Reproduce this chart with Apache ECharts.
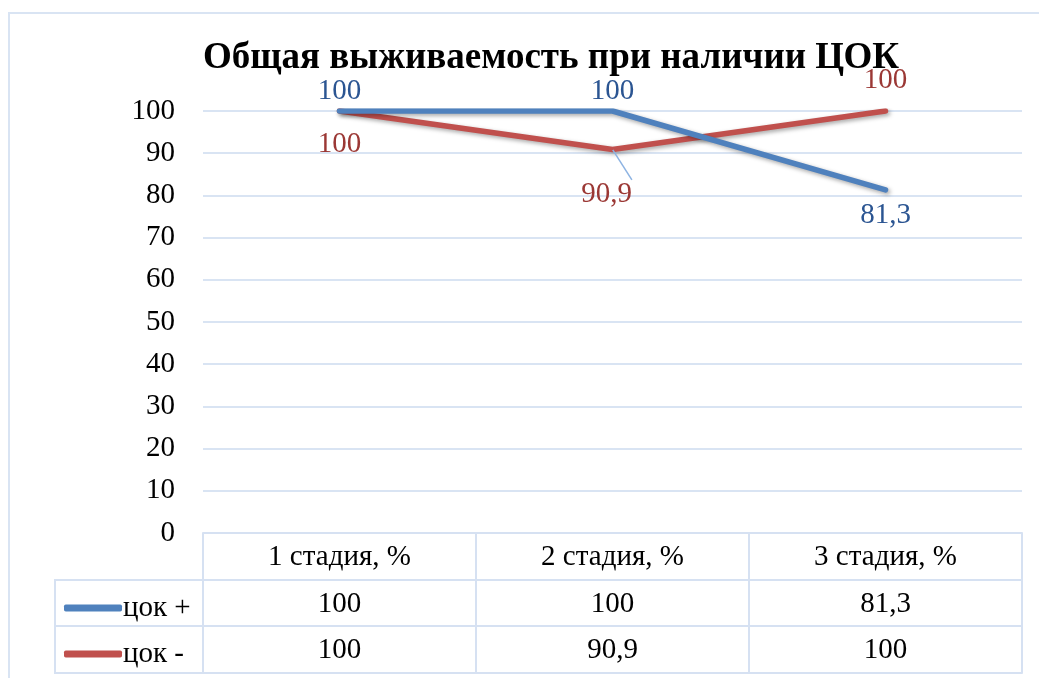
<!DOCTYPE html>
<html>
<head>
<meta charset="utf-8">
<script src="https://cdn.jsdelivr.net/npm/echarts@6/dist/echarts.min.js"></script>
<style>
  html, body { margin: 0; padding: 0; background: #fff; }
  #chart { width: 1039px; height: 678px; }
</style>
</head>
<body>
<div id="chart"></div>
<script>
// данные
const stages = ['1 стадия, %', '2 стадия, %', '3 стадия, %'];
const seriesNames = ['цок +', 'цок -'];
const cokPlus = [100, 100, 81.3];
const cokMinus = [100, 90.9, 100];

// где ставить подписи точек
const plusLabelPos = ['top', 'top', 'bottom'];
const minusLabelPos = ['bottom', 'bottom', 'top'];

const FONT = 'Liberation Serif';
const GRID_L = 203, GRID_R = 17, GRID_T = 111, GRID_B = 145;
const ROW = [47, 93, 140]; // нижние границы строк таблицы от оси
const TABLE_C = '#D6E1F2';
const BLUE = '#4F81BD', RED = '#C0504D';
const BLUE_TXT = '#2B5592', RED_TXT = '#9B3835';

const fmt = v => String(v).replace('.', ',');

const mkData = (vals, pos, dist, guide) => vals.map((v, i) => {
  const item = { value: v, label: { position: pos[i], distance: dist[i] } };
  if (guide && guide[i]) {
    item.label.offset = [-6, 0];
    item.labelLine = { show: true, length2: 0, lineStyle: { color: '#8DB3E2', width: 1.5 } };
  }
  return item;
});

const chart = echarts.init(document.getElementById('chart'));
const bottomY = 678 - GRID_B;

const tableAxis = (offset, vals) => ({
  type: 'category',
  data: stages,
  gridIndex: 0,
  position: 'bottom',
  offset: offset,
  axisLine: { show: true, lineStyle: { color: TABLE_C, width: 2 } },
  axisTick: { show: false },
  axisLabel: {
    show: !!vals,
    margin: 10,
    fontSize: 29,
    fontFamily: FONT,
    color: '#000',
    formatter: (v, i) => vals ? fmt(vals[i]) : ''
  },
  splitLine: { show: false }
});

var option = {
  animation: false,
  title: {
    text: 'Общая выживаемость при наличии ЦОК',
    left: 198,
    top: 35,
    textStyle: { fontFamily: FONT, fontSize: 37, fontWeight: 'bold', color: '#000' }
  },
  grid: {
    left: GRID_L, right: GRID_R, top: GRID_T, bottom: GRID_B,
    containLabel: false, outerBoundsMode: 'none'
  },
  legend: {
    orient: 'vertical',
    left: 59,
    top: 588,
    itemWidth: 58,
    itemHeight: 7,
    itemGap: 16,
    icon: 'roundRect',
    data: seriesNames,
    textStyle: { fontFamily: FONT, fontSize: 29, lineHeight: 30, color: '#000', padding: [0, 0, 0, -4] }
  },
  xAxis: [
    {
      type: 'category',
      data: stages,
      position: 'bottom',
      axisLine: { show: true, lineStyle: { color: TABLE_C, width: 2 } },
      axisTick: { show: true, inside: false, length: ROW[2], lineStyle: { color: TABLE_C, width: 2 } },
      axisLabel: { margin: 10, fontSize: 29, fontFamily: FONT, color: '#000' },
      splitLine: { show: false }
    },
    tableAxis(ROW[0], cokPlus),
    tableAxis(ROW[1], cokMinus),
    tableAxis(ROW[2], null)
  ],
  yAxis: {
    type: 'value',
    min: 0,
    max: 100,
    interval: 10,
    axisLine: { show: false },
    axisTick: { show: false },
    axisLabel: { margin: 28, fontSize: 29, fontFamily: FONT, color: '#000' },
    splitLine: { lineStyle: { color: '#D9E4F3', width: 2 } }
  },
  graphic: [
    {
      type: 'rect', z: -1, silent: true,
      shape: { x: 9, y: 13, width: 1100, height: 700 },
      style: { fill: 'none', stroke: '#D9E4F3', lineWidth: 2 }
    },
    {
      type: 'polyline', silent: true,
      shape: { points: [[GRID_L, bottomY + ROW[0]], [55, bottomY + ROW[0]], [55, bottomY + ROW[2]], [GRID_L, bottomY + ROW[2]]] },
      style: { fill: 'none', stroke: TABLE_C, lineWidth: 2 }
    },
    {
      type: 'line', silent: true,
      shape: { x1: 55, y1: bottomY + ROW[1], x2: GRID_L, y2: bottomY + ROW[1] },
      style: { stroke: TABLE_C, lineWidth: 2 }
    }
  ],
  series: [
    {
      name: seriesNames[0],
      type: 'line',
      data: mkData(cokPlus, plusLabelPos, [5, 5, 10]),
      color: BLUE,
      symbol: 'circle',
      symbolSize: 1,
      lineStyle: {
        width: 5.5, color: BLUE, cap: 'round', join: 'round',
        shadowColor: 'rgba(0,0,0,0.35)', shadowBlur: 4, shadowOffsetX: 2, shadowOffsetY: 2
      },
      label: { show: true, fontSize: 29, fontFamily: FONT, color: BLUE_TXT, formatter: p => fmt(p.value) },
      z: 3
    },
    {
      name: seriesNames[1],
      type: 'line',
      data: mkData(cokMinus, minusLabelPos, [18, 30, 16], [false, true, false]),
      color: RED,
      symbol: 'circle',
      symbolSize: 1,
      lineStyle: {
        width: 5.5, color: RED, cap: 'round', join: 'round',
        shadowColor: 'rgba(0,0,0,0.35)', shadowBlur: 4, shadowOffsetX: 2, shadowOffsetY: 2
      },
      label: { show: true, fontSize: 29, fontFamily: FONT, color: RED_TXT, formatter: p => fmt(p.value) },
      z: 2
    }
  ]
};

chart.setOption(option);
</script>
</body>
</html>
